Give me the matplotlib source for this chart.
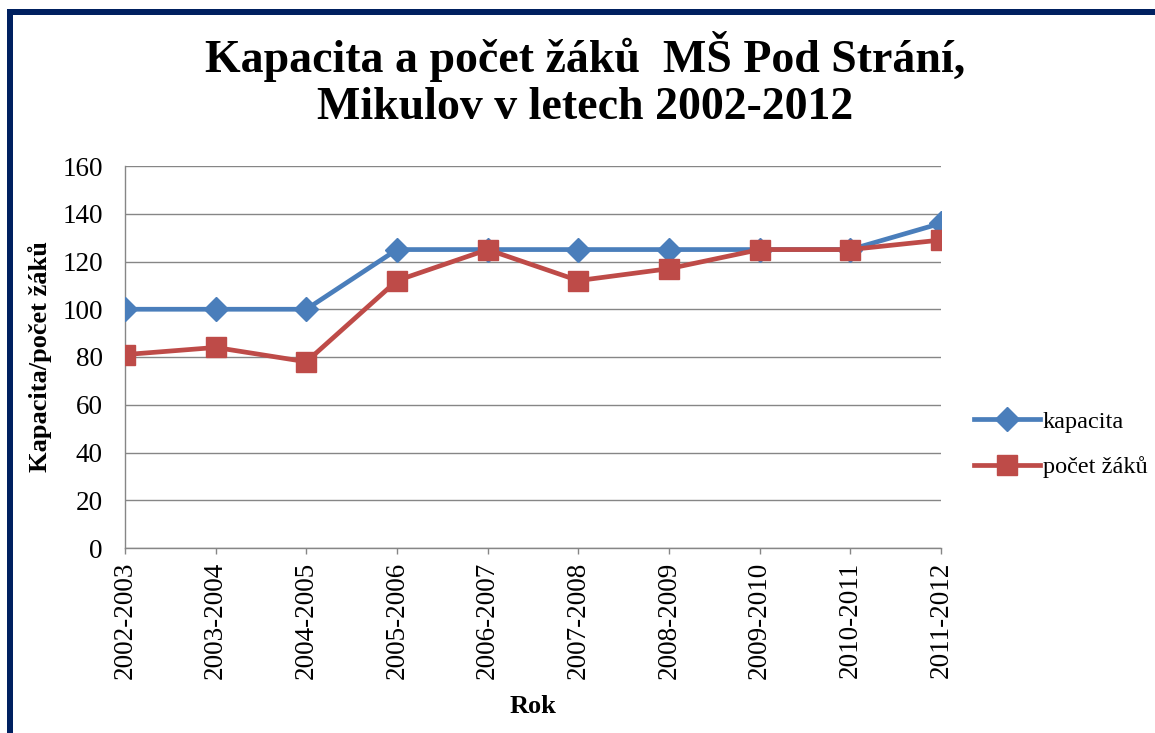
import matplotlib
matplotlib.use("Agg")
import matplotlib.pyplot as plt
from matplotlib.patches import Rectangle

years = ["2002-2003", "2003-2004", "2004-2005", "2005-2006", "2006-2007",
         "2007-2008", "2008-2009", "2009-2010", "2010-2011", "2011-2012"]
kapacita = [100, 100, 100, 125, 125, 125, 125, 125, 125, 136]
pocet_zaku = [81, 84, 78, 112, 125, 112, 117, 125, 125, 129]
yticks = [0, 20, 40, 60, 80, 100, 120, 140, 160]

W, H = 1155, 733
plt.rcParams["font.family"] = ["Liberation Serif", "DejaVu Serif"]
fig = plt.figure(figsize=(W / 100, H / 100), dpi=100)
fig.patch.set_facecolor("white")

# navy frame
navy = "#002060"
fig.add_artist(Rectangle((7 / W, 0), 6 / W, (H - 9) / H, transform=fig.transFigure,
                         facecolor=navy, edgecolor="none"))
fig.add_artist(Rectangle((7 / W, (H - 15) / H), (W - 7) / W, 6 / H, transform=fig.transFigure,
                         facecolor=navy, edgecolor="none"))

left, right, top, bottom = 125, 941, 166, 548
ax = fig.add_axes([left / W, (H - bottom) / H, (right - left) / W, (bottom - top) / H])

x = list(range(len(years)))
ax.plot(x, kapacita, color="#4A7EBB", lw=3.4, marker="D", markersize=12,
        markeredgecolor="#4A7EBB", label="kapacita", zorder=3)
ax.plot(x, pocet_zaku, color="#BE4B48", lw=3.4, marker="s", markersize=14,
        markeredgecolor="#BE4B48", label="počet žáků", zorder=4)

ax.set_xlim(0, len(years) - 1)
ax.set_ylim(0, 160)
ax.set_yticks(yticks)
ax.set_xticks(x)
ax.set_xticklabels(years, rotation=90, fontsize=19.5)
ax.tick_params(axis="y", length=0, labelsize=19.5, pad=16)
ax.tick_params(axis="x", length=4, color="#868686", width=1, pad=6)
ax.grid(axis="y", color="#868686", lw=1)
ax.set_axisbelow(True)
for s in ["top", "right"]:
    ax.spines[s].set_visible(False)
for s in ["left", "bottom"]:
    ax.spines[s].set_color("#868686")
    ax.spines[s].set_linewidth(1)

ax.set_ylabel("Kapacita/počet žáků", fontsize=19, fontweight="bold", labelpad=7)
ax.set_xlabel("Rok", fontsize=19, fontweight="bold", labelpad=11)

fig.text(585 / W, 1 - 80 / H, "Kapacita a počet žáků  MŠ Pod Strání,\nMikulov v letech 2002-2012",
         ha="center", va="center", fontsize=33, fontweight="bold", linespacing=1.17)

leg = ax.legend(loc="center left", bbox_to_anchor=(1.0257, 0.271), frameon=False,
                borderpad=0, fontsize=17.5, handlelength=2.7, handletextpad=0.12,
                labelspacing=0.95)

fig.savefig("out.png", dpi=100, facecolor="white")
